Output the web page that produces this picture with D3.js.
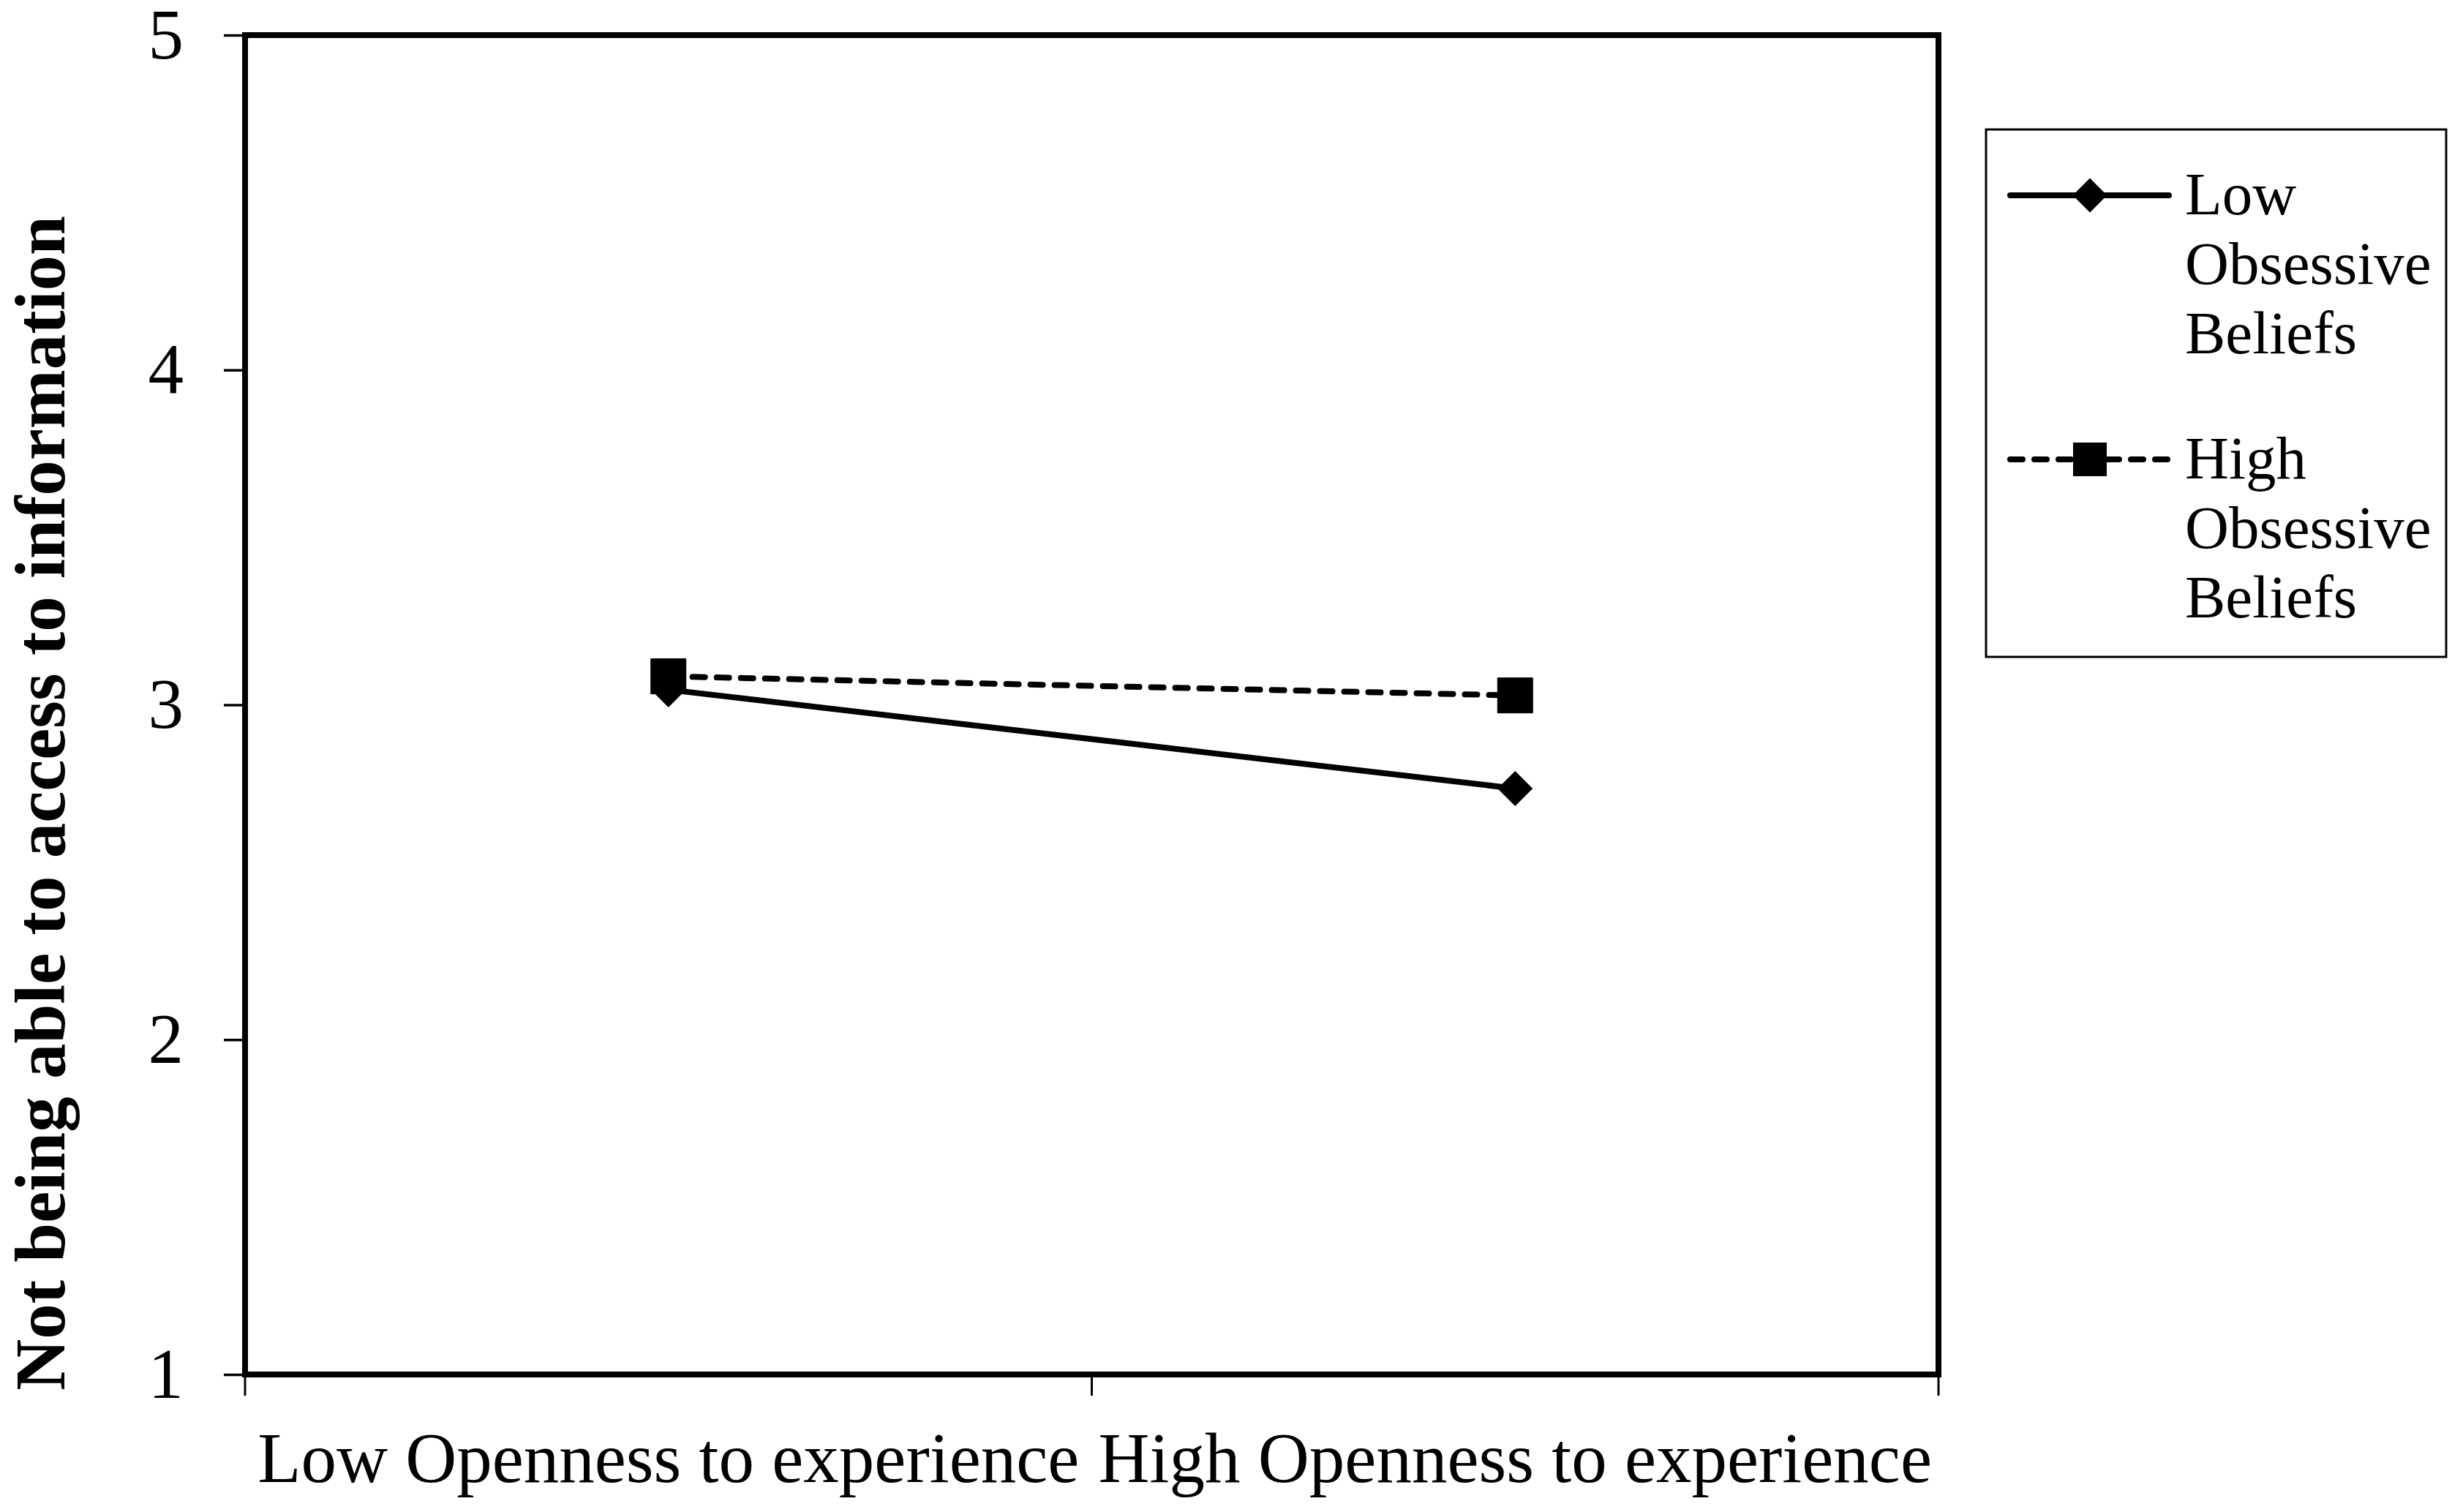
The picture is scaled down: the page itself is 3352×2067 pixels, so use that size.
<!DOCTYPE html>
<html>
<head>
<meta charset="utf-8">
<script src="https://cdn.jsdelivr.net/npm/d3@7"></script>
<style>
  html, body { margin: 0; padding: 0; background: #fff; }
  svg { display: block; }
  text { font-family: "Liberation Serif", "Times New Roman", serif; fill: #000; }
</style>
</head>
<body>
<script>
// ---- data ----
const categories = ["Low Openness to experience", "High Openness to experience"];
const lowObsessive = [3.045, 2.75];
const highObsessive = [3.085, 3.028];
const yTicks = [1, 2, 3, 4, 5];
const seriesNames = ["Low Obsessive Beliefs", "High Obsessive Beliefs"];
const legendLines = [["Low", "Obsessive", "Beliefs"], ["High", "Obsessive", "Beliefs"]];
const yTitle = "Not being able to access to information";

// ---- layout ----
const W = 3352, H = 2067;
const plot = { left: 335, right: 2650, top: 48, bottom: 1879 };

const svg = d3.select("body").append("svg").attr("width", W).attr("height", H);

const x = d3.scaleBand().domain(categories).range([plot.left, plot.right]).paddingInner(0).paddingOuter(0);
const y = d3.scaleLinear().domain([1, 5]).range([plot.bottom, plot.top]);

// y axis
const yAxis = svg.append("g").attr("transform", `translate(${plot.left},0)`)
  .call(d3.axisLeft(y).tickValues(yTicks).tickFormat(d3.format("d")).tickSize(29).tickPadding(55));
yAxis.select(".domain").remove();
yAxis.selectAll(".tick line").attr("stroke", "#000").attr("stroke-width", 3.5);
yAxis.selectAll(".tick text").attr("font-size", 97).attr("font-family", "Liberation Serif");

// x axis: labels centered in bands, ticks on band edges
const xAxis = svg.append("g").attr("transform", `translate(0,${plot.bottom})`)
  .call(d3.axisBottom(x).tickSize(0).tickPadding(0));
xAxis.select(".domain").remove();
xAxis.selectAll(".tick line").remove();
xAxis.selectAll(".tick text").attr("font-size", 97).attr("font-family", "Liberation Serif")
  .attr("dy", null).attr("y", 147);
const edges = categories.map(c => x(c)).concat([x.range()[1]]);
svg.append("g").selectAll("line").data(edges).join("line")
  .attr("x1", d => d).attr("x2", d => d)
  .attr("y1", plot.bottom).attr("y2", plot.bottom + 29)
  .attr("stroke", "#000").attr("stroke-width", 3);

// plot frame
svg.append("rect")
  .attr("x", plot.left).attr("y", plot.top)
  .attr("width", plot.right - plot.left).attr("height", plot.bottom - plot.top)
  .attr("fill", "none").attr("stroke", "#000").attr("stroke-width", 8);

// y title
svg.append("text")
  .attr("transform", `translate(88,${(290 + 1906) / 2}) rotate(-90)`)
  .attr("text-anchor", "middle")
  .attr("font-size", 97).attr("font-weight", "bold")
  .text(yTitle);

// series
const cx = c => x(c) + x.bandwidth() / 2;
const line = d3.line().x(d => cx(d.c)).y(d => y(d.v));
const s1 = categories.map((c, i) => ({ c, v: lowObsessive[i] }));
const s2 = categories.map((c, i) => ({ c, v: highObsessive[i] }));

const diamond = d3.symbol().type(d3.symbolSquare).size(1152);
const square = d3.symbol().type(d3.symbolSquare).size(2304);

svg.append("path").datum(s2).attr("d", line)
  .attr("fill", "none").attr("stroke", "#000").attr("stroke-width", 8)
  .attr("stroke-dasharray", "17 16").attr("stroke-linecap", "round");
svg.append("path").datum(s1).attr("d", line)
  .attr("fill", "none").attr("stroke", "#000").attr("stroke-width", 8);

svg.append("g").selectAll("path").data(s2).join("path")
  .attr("d", square).attr("transform", d => `translate(${cx(d.c)},${y(d.v)})`)
  .attr("fill", "#000").attr("stroke", "#000").attr("stroke-width", 1).attr("stroke-linejoin", "round");
svg.append("g").selectAll("path").data(s1).join("path")
  .attr("d", diamond).attr("transform", d => `translate(${cx(d.c)},${y(d.v)}) rotate(45)`)
  .attr("fill", "#000");

// legend
const lg = svg.append("g");
lg.append("rect").attr("x", 2715).attr("y", 177).attr("width", 3344 - 2715).attr("height", 898 - 177)
  .attr("fill", "#fff").attr("stroke", "#000").attr("stroke-width", 3);

const entryY = [267, 628];
seriesNames.forEach((name, i) => {
  const g = lg.append("g").attr("transform", `translate(0,${entryY[i]})`);
  const ln = g.append("line").attr("x1", 2748).attr("x2", 2965).attr("y1", 0).attr("y2", 0)
    .attr("stroke", "#000").attr("stroke-width", 8).attr("stroke-linecap", "round");
  if (i === 1) {
    ln.attr("stroke-dasharray", "17 16");
    g.append("path").attr("d", d3.symbol().type(d3.symbolSquare).size(2116)())
      .attr("transform", "translate(2857,0)").attr("fill", "#000");
  } else {
    g.append("path").attr("d", d3.symbol().type(d3.symbolSquare).size(1100)())
      .attr("transform", "translate(2857,0) rotate(45)").attr("fill", "#000");
  }
  legendLines[i].forEach((t, k) => {
    g.append("text").attr("x", 2987).attr("y", 26 + k * 95)
      .attr("font-size", 83).text(t);
  });
});
</script>
</body>
</html>
